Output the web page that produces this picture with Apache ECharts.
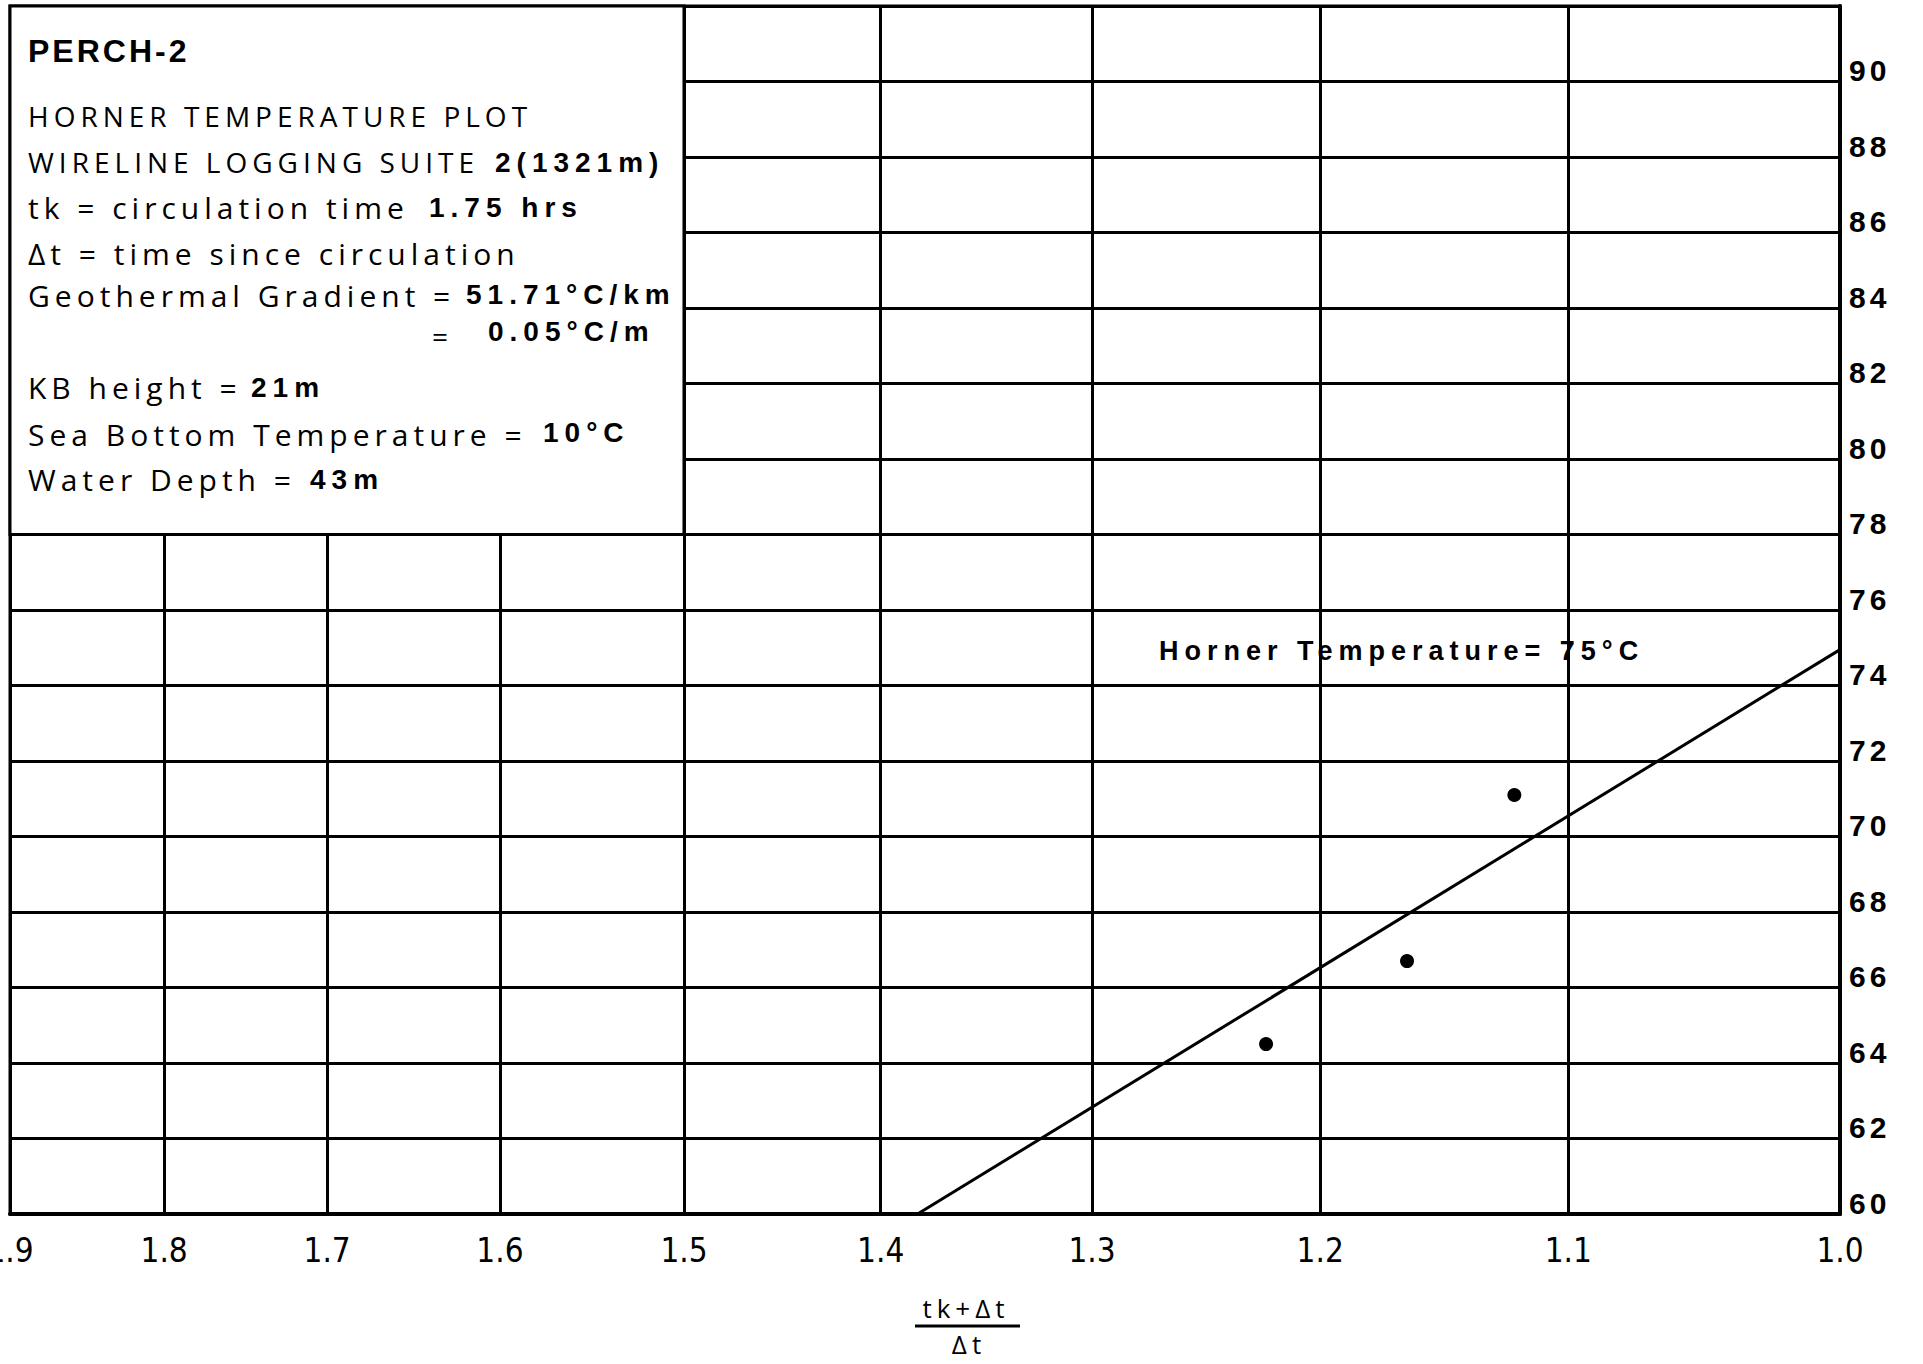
<!DOCTYPE html>
<html>
<head>
<meta charset="utf-8">
<title>PERCH-2 Horner temperature plot</title>
<script src="https://cdn.jsdelivr.net/npm/echarts@6/dist/echarts.min.js"></script>
<style>
  html, body { margin: 0; padding: 0; background: #fff; }
  #chart { width: 1923px; height: 1364px; }
  /* the scanned plot is set with wide letter spacing */
  #chart text[style*="lightsp"] { letter-spacing: 5px; }
  #chart text[style*="boldsp"] { letter-spacing: 6px; }
  #chart text[style*="titlesp"] { letter-spacing: 3px; }
  #chart text[style*="ysp"] { letter-spacing: 4px; }
</style>
</head>
<body>
<div id="chart"></div>
<script>
// measured points, (tk+dt)/dt vs temperature (degC)
const pointRatio = [1.223, 1.164, 1.121]
const pointTemp = [64.5, 66.7, 71.1]
// straight line fitted through them, extrapolated to ratio 1.0
const fitRatio = [1.0, 1.382]
const fitTemp = [74.95, 60]
// axis ticks
const ratioTicks = [1.0, 1.1, 1.2, 1.3, 1.4, 1.5, 1.6, 1.7, 1.8, 1.9]
const tempMin = 60
const tempMax = 92
const tempStep = 2

const LIGHT = '"Open Sans", "DejaVu Sans", lightsp'
const BOLD = '"Liberation Sans", Arial, boldsp'
const XFONT = '"DejaVu Sans Condensed", "Liberation Sans Narrow", sans-serif'

const chart = echarts.init(document.getElementById('chart'), null, { renderer: 'svg' })

function txt(text, x, y, font, align) {
  return {
    type: 'text',
    z: 50,
    style: {
      text: text,
      x: x,
      y: y,
      font: font,
      fill: '#000',
      align: align || 'left',
      textAlign: align || 'left',
      verticalAlign: 'middle',
      textVerticalAlign: 'middle'
    }
  }
}
const caps = '28px ' + LIGHT
const light = '30px ' + LIGHT
const bold = 'bold 28px ' + BOLD

const option = {
  backgroundColor: '#fff',
  animation: false,
  grid: {
    left: 10,
    right: 83,
    top: 6,
    bottom: 150,
    outerBoundsMode: 'none',
    show: true,
    borderColor: '#000',
    borderWidth: 3
  },
  xAxis: {
    type: 'log',
    logBase: 10,
    min: 1,
    max: 1.9,
    inverse: true,
    axisLine: { show: true, lineStyle: { color: '#000', width: 4 } },
    axisTick: { show: false, customValues: ratioTicks },
    splitLine: { show: true, lineStyle: { color: '#000', width: 3 } },
    axisLabel: {
      customValues: ratioTicks,
      margin: 20,
      color: '#000',
      fontSize: 33,
      fontFamily: XFONT,
      formatter: function(v) { return (+v).toFixed(1) }
    }
  },
  yAxis: {
    type: 'value',
    position: 'right',
    min: tempMin,
    max: tempMax,
    interval: tempStep,
    axisLine: { show: true, lineStyle: { color: '#000', width: 4 } },
    axisTick: { show: false },
    splitLine: { show: true, lineStyle: { color: '#000', width: 3 } },
    axisLabel: {
      showMaxLabel: false,
      margin: 9,
      color: '#000',
      fontSize: 30,
      fontWeight: 'bold',
      fontFamily: '"Liberation Sans", Arial, ysp',
      verticalAlign: 'bottom',
      lineHeight: 22
    }
  },
  series: [
    {
      name: 'Horner line',
      type: 'line',
      data: fitRatio.map((r, i) => [r, fitTemp[i]]),
      showSymbol: false,
      lineStyle: { color: '#000', width: 3 },
      z: 3,
      markArea: {
        silent: true,
        itemStyle: { color: '#fff', borderColor: '#000', borderWidth: 3 },
        data: [[{ coord: [1.9, 78] }, { coord: [1.5, tempMax] }]]
      }
    },
    {
      name: 'Temperatures',
      type: 'scatter',
      data: pointRatio.map((r, i) => [r, pointTemp[i]]),
      symbol: 'circle',
      symbolSize: 14,
      itemStyle: { color: '#000', opacity: 1 },
      z: 4
    }
  ],
  graphic: [
    txt('PERCH-2', 28, 51, 'bold 32px "Liberation Sans", Arial, titlesp'),
    txt('HORNER TEMPERATURE PLOT', 28, 116, caps),
    txt('WIRELINE LOGGING SUITE', 28, 162, caps),
    txt('2(1321m)', 495, 162, bold),
    txt('tk = circulation time', 28, 207, light),
    txt('1.75 hrs', 429, 207, bold),
    txt('Δt = time since circulation', 28, 253, light),
    txt('Geothermal Gradient =', 28, 295, light),
    txt('51.71°C/km', 466, 294, bold),
    txt('=', 432, 336, '28px ' + LIGHT),
    txt('0.05°C/m', 488, 331, bold),
    txt('KB height =', 28, 387, light),
    txt('21m', 251, 387, bold),
    txt('Sea Bottom Temperature =', 28, 434, light),
    txt('10°C', 543, 432, bold),
    txt('Water Depth =', 28, 479, light),
    txt('43m', 310, 479, bold),
    txt('Horner Temperature= 75°C', 1159, 651, 'bold 27px ' + BOLD),
    // x axis name, written as a fraction
    txt('tk+Δt', 966, 1308, '26px ' + LIGHT, 'center'),
    {
      type: 'line',
      z: 50,
      shape: { x1: 915, y1: 1326, x2: 1020, y2: 1326 },
      style: { stroke: '#000', lineWidth: 3 }
    },
    txt('Δt', 969, 1344, '26px ' + LIGHT, 'center')
  ]
}
chart.setOption(option)
</script>
</body>
</html>
